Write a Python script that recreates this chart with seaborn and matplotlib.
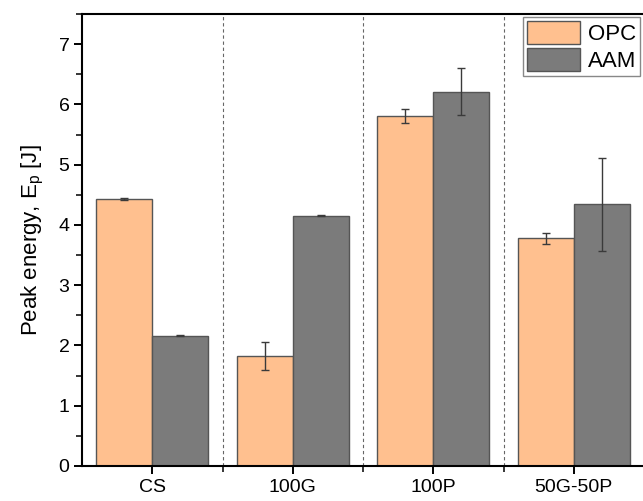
import matplotlib
matplotlib.use("Agg")
import matplotlib.pyplot as plt
from matplotlib.ticker import MultipleLocator, FixedLocator
import seaborn as sns
import pandas as pd
import numpy as np

categories = ["CS", "100G", "100P", "50G-50P"]
series = ["OPC", "AAM"]
opc_values = [4.43, 1.83, 5.81, 3.78]
opc_errors = [0.01, 0.23, 0.12, 0.09]
aam_values = [2.16, 4.155, 6.21, 4.34]
aam_errors = [0.01, 0.01, 0.39, 0.77]
colors = ["#FFC08F", "#7B7B7B"]

sns.set_theme(style="ticks")
plt.rcParams["font.family"] = ["Liberation Sans", "DejaVu Sans"]
plt.rcParams["mathtext.fontset"] = "custom"
plt.rcParams["mathtext.rm"] = "Liberation Sans"
plt.rcParams["mathtext.it"] = "Liberation Sans:italic"
plt.rcParams["text.color"] = "black"
plt.rcParams["axes.labelcolor"] = "black"
plt.rcParams["xtick.color"] = "black"
plt.rcParams["ytick.color"] = "black"

df = pd.DataFrame({
    "cat": categories * 2,
    "series": [series[0]] * len(categories) + [series[1]] * len(categories),
    "value": opc_values + aam_values,
    "err": opc_errors + aam_errors,
})

fig = plt.figure(figsize=(6.43, 5.01), dpi=100)
ax = fig.add_axes([82 / 643, 1 - 466 / 501, 562 / 643, (466 - 14) / 501])

sns.barplot(data=df, x="cat", y="value", hue="series", order=categories,
            hue_order=series, palette=colors, width=0.8, errorbar=None,
            edgecolor="#555555", linewidth=1.0, saturation=1, ax=ax)

# error bars placed at the centres of the seaborn bars
for s_idx, s in enumerate(series):
    cont = ax.containers[s_idx]
    sub = df[df["series"] == s].set_index("cat").loc[categories]
    xs = [p.get_x() + p.get_width() / 2 for p in cont.patches]
    tops = [p.get_height() for p in cont.patches]
    ax.errorbar(xs, tops, yerr=sub["err"].values, fmt="none",
                ecolor="#3a3a3a", elinewidth=1.0, capsize=3.2, capthick=1.0,
                zorder=5)

for i in range(len(categories) - 1):
    ax.axvline(i + 0.5, color="#666666", linestyle=(0, (3, 2.5)), linewidth=0.8, zorder=0)

ax.set_xlim(-0.5, len(categories) - 0.5)
ax.set_ylim(0, 7.5)
ax.yaxis.set_major_locator(MultipleLocator(1))
ax.yaxis.set_minor_locator(MultipleLocator(0.5))
ax.xaxis.set_minor_locator(FixedLocator([i + 0.5 for i in range(len(categories) - 1)]))

ax.set_xlabel("")
ax.set_ylabel("Peak energy, E$_\\mathrm{p}$ [J]", fontsize=16, labelpad=9)
ax.tick_params(axis="both", which="major", labelsize=14, length=6, width=1.4,
               direction="out", pad=3)
ax.tick_params(axis="both", which="minor", length=4, width=1.1, direction="out")

for side in ["left", "bottom", "top"]:
    ax.spines[side].set_visible(True)
    ax.spines[side].set_linewidth(1.5)
    ax.spines[side].set_color("black")
ax.spines["right"].set_visible(False)

leg = ax.legend(loc="upper right", bbox_to_anchor=(640 / 643, 1 - 17 / 501),
                bbox_transform=fig.transFigure, fontsize=16, frameon=True,
                fancybox=False, framealpha=1, edgecolor="#888888",
                handlelength=2.35, handleheight=1.2, labelspacing=0.14,
                borderpad=0.18, handletextpad=0.36, borderaxespad=0)
leg.get_frame().set_linewidth(1.0)

fig.savefig("out.png", dpi=100)
